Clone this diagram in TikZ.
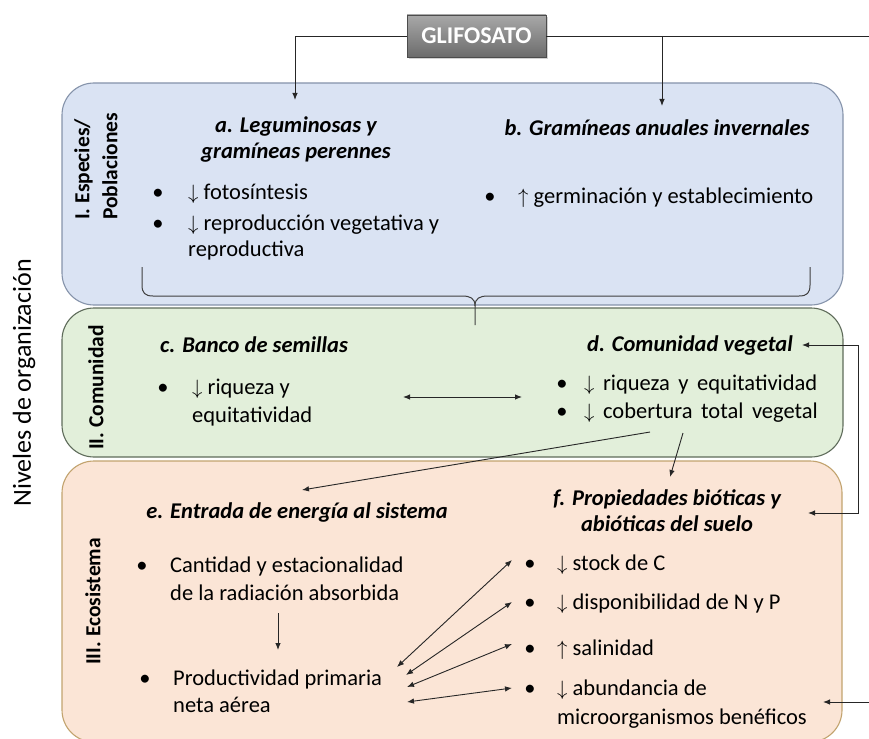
\documentclass[tikz,border=0pt]{standalone}
\usepackage{fontspec}
\setmainfont{Carlito}
\usetikzlibrary{arrows.meta,shadows}
\definecolor{bluef}{HTML}{DAE3F3}
\definecolor{blueb}{HTML}{8593AA}
\definecolor{greenf}{HTML}{E2EFDA}
\definecolor{greenb}{HTML}{5E6B5A}
\definecolor{orangef}{HTML}{FBE5D6}
\definecolor{orangeb}{HTML}{C2A36E}
\definecolor{glyt}{HTML}{A8A8A8}
\definecolor{glyb}{HTML}{6C6C6C}
\newcommand{\wsp}{\hspace{8.5pt}}
\begin{document}
\begin{tikzpicture}[x=1pt,y=-1pt,
  box/.style={rounded corners=32pt, line width=1.1pt},
  body/.style={font=\fontsize{22.5}{27}\selectfont, inner sep=0pt, anchor=base west},
  dot/.style={font=\fontsize{22.5}{27}\selectfont, inner sep=0pt, anchor=base},
  ttl/.style={font=\fontsize{22.5}{26}\selectfont\bfseries\itshape, inner sep=0pt, align=center},
  lbl/.style={font=\fontsize{21.5}{28}\selectfont\bfseries, inner sep=0pt, rotate=90, align=left, anchor=west},
  conn/.style={line width=0.9pt, draw=black!85},
  arr/.style={conn, -{Latex[length=7pt,width=5.5pt]}},
  darr/.style={conn, {Latex[length=7pt,width=5.5pt]}-{Latex[length=7pt,width=5.5pt]}},
  glif/.style={draw=black!70, line width=0.8pt, top color=glyt, bottom color=glyb,
    minimum width=139pt, minimum height=42pt, inner sep=0pt, text=white,
    font=\fontsize{24}{28}\selectfont\bfseries,
    drop shadow={shadow xshift=2pt, shadow yshift=-2pt, fill=black!35}},
]
\useasboundingbox (0,0) rectangle (869,738);
% level boxes
\draw[box, fill=bluef, draw=blueb] (62,83) rectangle (843,305);
\draw[box, fill=greenf, draw=greenb] (62,308) rectangle (843,457);
\draw[box, fill=orangef, draw=orangeb] (62,461) rectangle (842,742);

% side labels
\node[rotate=90, font=\fontsize{26}{30}\selectfont, inner sep=0pt] (niv) at (24,383) {Niveles de organización};
\node[lbl] (l1) at (96,220) {I. Especies/\\Poblaciones};
\node[lbl] (l2) at (96,450) {II. Comunidad};
\node[lbl] (l3) at (93,665) {III. Ecosistema};

% glifosato
\node[glif] (g) at (476.5,36) {GLIFOSATO};
\coordinate (ga) at (295,100);
\coordinate (gb0) at (662,36);
\coordinate (gb) at (662,106);
\coordinate (gr) at (869,36);
\draw[arr] (g.west) -| (ga);
\draw[conn] (g.east) -- (gr);
\draw[arr] (gb0) -- (gb);

% a
\node[ttl] (ta) at (296,140) {a. Leguminosas y\\gramíneas perennes};
\node[dot] (a1d) at (158,200) {•};
\node[body] (a1) at (188,200) {$\downarrow$ fotosíntesis};
\node[dot] (a2d) at (158,230) {•};
\node[body] (a2) at (188,230) {$\downarrow$ reproducción vegetativa y};
\node[body] (a3) at (188,256) {reproductiva};

% b
\node[ttl] (tb) at (657,128) {b. Gramíneas anuales invernales};
\node[dot] (b1d) at (490,204) {•};
\node[body] (b1) at (518,204) {$\uparrow$ germinación y establecimiento};

% brace
\draw[line width=1pt, draw=black!75] (142,267) -- (142,285) .. controls (142,293) and (145,296) .. (153,296)
  -- (462,296) .. controls (470,296) and (475,298) .. (475,306) -- (475,325);
\draw[line width=1pt, draw=black!75] (475,306) .. controls (475,298) and (480,296) .. (488,296)
  -- (799,296) .. controls (807,296) and (810,293) .. (810,285) -- (810,267);

% c
\node[ttl, anchor=west] (tc) at (160,345) {c. Banco de semillas};
\node[dot] (c1d) at (163,394) {•};
\node[body] (c1) at (192,394) {$\downarrow$ riqueza y};
\node[body] (c2) at (192,422) {equitatividad};

% d
\node[ttl, anchor=east] (td) at (793,345) {d. Comunidad vegetal};
\node[dot] (d1d) at (562,390) {•};
\node[body] (d1) at (584,390) {$\downarrow$\wsp riqueza\wsp y\wsp equitatividad};
\node[dot] (d2d) at (562,418) {•};
\node[body] (d2) at (584,418) {$\downarrow$\wsp cobertura\wsp total\wsp vegetal};

\coordinate (cdl) at (403,397);
\coordinate (cdr) at (522,397);
\draw[darr] (cdl) -- (cdr);

% e
\node[ttl] (te) at (297,512) {e. Entrada de energía al sistema};
\node[dot] (e1d) at (142,572) {•};
\node[body] (e1) at (170,572) {Cantidad y estacionalidad};
\node[body] (e2) at (170,600) {de la radiación absorbida};
\node[dot] (e3d) at (145,685) {•};
\node[body] (e3) at (173,685) {Productividad primaria};
\node[body] (e4) at (173,712) {neta aérea};
\coordinate (eda) at (278,613);
\coordinate (edb) at (278,650);
\draw[arr] (eda) -- (edb);

% f
\node[ttl] (tf) at (667,511) {f. Propiedades bióticas y\\abióticas del suelo};
\node[dot] (f1d) at (530,570) {•};
\node[body] (f1) at (557,570) {$\downarrow$ stock de C};
\node[dot] (f2d) at (530,609) {•};
\node[body] (f2) at (557,609) {$\downarrow$ disponibilidad de N y P};
\node[dot] (f3d) at (530,655) {•};
\node[body] (f3) at (557,655) {$\uparrow$ salinidad};
\node[dot] (f4d) at (530,695) {•};
\node[body] (f4) at (557,695) {$\downarrow$ abundancia de};
\node[body] (f5) at (557,724) {microorganismos benéficos};

% d -> e, d -> f
\coordinate (de0) at (650,432);
\coordinate (de1) at (302,490);
\draw[arr] (de0) -- (de1);
\coordinate (df0) at (683,433);
\coordinate (df1) at (670,477);
\draw[arr] (df0) -- (df1);

% f <-> productividad
\coordinate (p1) at (397,667);
\coordinate (p2) at (406,675);
\coordinate (p3) at (407,687);
\coordinate (p4) at (407,702);
\coordinate (q1) at (512,560);
\coordinate (q2) at (512,602);
\coordinate (q3) at (512,644);
\coordinate (q4) at (512,688);
\draw[darr] (p1) -- (q1);
\draw[darr] (p2) -- (q2);
\draw[darr] (p3) -- (q3);
\draw[darr] (p4) -- (q4);

% right side feedback
\coordinate (rd) at (802,345);
\coordinate (rf) at (808,513);
\coordinate (rt) at (858,345);
\coordinate (rb) at (858,513);
\draw[arr] (rt) -- (rd);
\draw[arr] (rt) -- (rb) -- (rf);
\coordinate (bre) at (869,702);
\coordinate (brt) at (823,702);
\draw[arr] (bre) -- (brt);
\end{tikzpicture}
\end{document}
